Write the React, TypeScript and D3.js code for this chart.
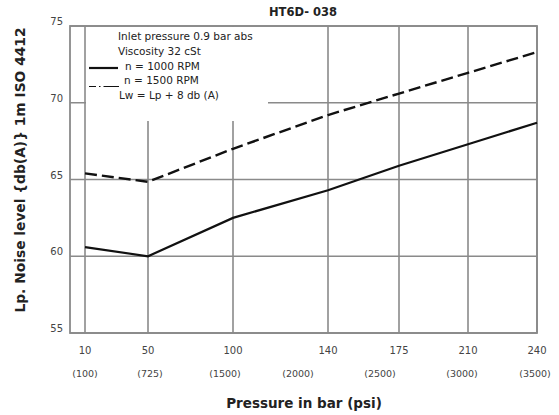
import React from "react";
import * as d3 from "d3";

// ---- data ----
const pressureBar = [10, 50, 100, 140, 175, 210, 240];
const psiLabels = ["(100)", "(725)", "(1500)", "(2000)", "(2500)", "(3000)", "(3500)"];
const noise1000 = [60.6, 60.0, 62.5, 64.3, 65.9, 67.3, 68.7];
const noise1500 = [65.4, 64.85, 67.0, 69.2, 70.6, 71.95, 73.3];
const yTicks = [55, 60, 65, 70, 75];
const legendLines = [
  "Inlet pressure 0.9 bar abs",
  "Viscosity 32 cSt",
  "n = 1000 RPM",
  "n = 1500 RPM",
  "Lw = Lp + 8 db (A)",
];
const chartTitle = "HT6D- 038";
const yTitle = "Lp. Noise level {db(A)} 1m ISO 4412";
const xTitle = "Pressure in bar (psi)";

// ---- layout ----
const W = 559;
const H = 415;
const left = 70;
const right = 537;
const top = 26;
const bottom = 333;
// irregular (non-linear) spacing of the original axis, px from the left frame
const tickOffsets = [15, 78, 163, 258, 329, 398, 467];
const psiShift = [0, 2, -8, -30, -19, -6, -2];
const legendBox = { x0: 86, x1: 268, y1: 121 };

const GRID = "#8a8a8a";
const INK = "#111";
const FONT = "'DejaVu Sans', Verdana, sans-serif";

export default function App() {
  const x = d3
    .scaleLinear()
    .domain(pressureBar)
    .range(tickOffsets.map((o) => left + o));
  const y = d3.scaleLinear().domain([55, 75]).range([bottom, top]);

  const line = d3
    .line<number>()
    .x((_, i) => x(pressureBar[i]))
    .y((d) => y(d));

  return (
    <svg width={W} height={H} style={{ display: "block", position: "absolute", left: 0, top: 0, background: "#fff" }}>
      <rect x={0} y={0} width={W} height={H} fill="#fff" />
      {/* horizontal grid */}
      {yTicks.map((t) => (
        <line key={"h" + t} x1={left} x2={right} y1={y(t)} y2={y(t)} stroke={GRID} strokeWidth={1.6} />
      ))}
      {/* vertical grid */}
      {pressureBar.map((p) => (
        <line key={"v" + p} x1={x(p)} x2={x(p)} y1={top} y2={bottom} stroke={GRID} strokeWidth={1.6} />
      ))}
      {/* frame */}
      <rect x={left} y={top} width={right - left} height={bottom - top} fill="none" stroke={GRID} strokeWidth={1.8} />
      {/* legend background */}
      <rect
        x={legendBox.x0}
        y={top + 1}
        width={legendBox.x1 - legendBox.x0}
        height={legendBox.y1 - top - 1}
        fill="#fff"
      />
      {/* series */}
      <path d={line(noise1000) || ""} fill="none" stroke={INK} strokeWidth={2.2} />
      <path d={line(noise1500) || ""} fill="none" stroke={INK} strokeWidth={2.4} strokeDasharray="12 5" />

      {/* legend */}
      <g fontFamily={FONT} fontSize={10.5} fill="#222">
        <text x={118} y={40}>{legendLines[0]}</text>
        <text x={118} y={55}>{legendLines[1]}</text>
        <line x1={89} x2={118} y1={68} y2={68} stroke={INK} strokeWidth={2.2} />
        <text x={125} y={70}>{legendLines[2]}</text>
        <line x1={89} x2={119} y1={86.5} y2={86.5} stroke={INK} strokeWidth={1} strokeDasharray="7 3 1.5 3 16" />
        <text x={124} y={84}>{legendLines[3]}</text>
        <text x={119} y={99}>{legendLines[4]}</text>
      </g>

      {/* y tick labels */}
      <g fontFamily={FONT} fontSize={10} fill="#444" textAnchor="end">
        {yTicks.map((t) => (
          <text key={"yl" + t} x={63} y={y(t) - 1}>
            {t}
          </text>
        ))}
      </g>
      {/* x tick labels */}
      <g fontFamily={FONT} fontSize={10} fill="#444" textAnchor="middle">
        {pressureBar.map((p) => (
          <text key={"xl" + p} x={x(p)} y={354}>
            {p}
          </text>
        ))}
        {psiLabels.map((s, i) => (
          <text key={"psi" + i} x={x(pressureBar[i]) + psiShift[i]} y={377} fontSize={9.5}>
            {s}
          </text>
        ))}
      </g>

      {/* titles */}
      <text x={303} y={16} textAnchor="middle" fontFamily={FONT} fontSize={11.5} fontWeight={700} fill="#222">
        {chartTitle}
      </text>
      <text
        x={304}
        y={408}
        textAnchor="middle"
        fontFamily={FONT}
        fontSize={13.5}
        fontWeight={700}
        fill="#222"
      >
        {xTitle}
      </text>
      <text
        transform={`translate(25, 170) rotate(-90)`}
        textAnchor="middle"
        fontFamily={FONT}
        fontSize={13.8}
        fontWeight={700}
        fill="#222"
      >
        {yTitle}
      </text>
    </svg>
  );
}
